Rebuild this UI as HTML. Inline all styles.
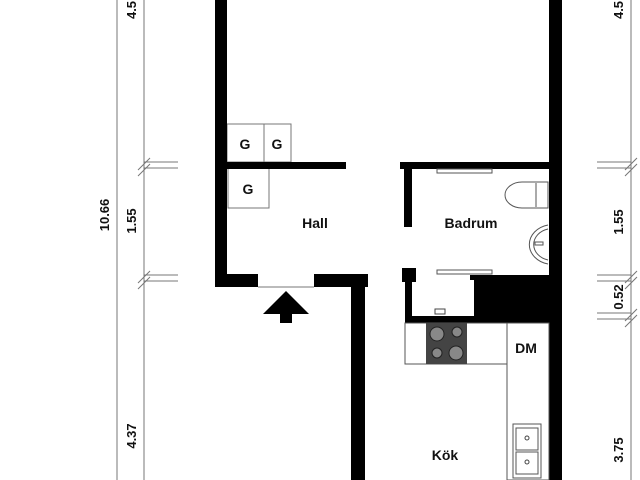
<!DOCTYPE html>
<html><head><style>
html,body{margin:0;padding:0;background:#fff;}
svg{display:block;}
text{font-family:"Liberation Sans","DejaVu Sans",sans-serif;font-weight:bold;fill:#111;}
</style></head><body>
<svg width="640" height="480" viewBox="0 0 640 480" xmlns="http://www.w3.org/2000/svg">
<!-- left dims -->
<g stroke="#777" stroke-width="1">
<line x1="117" y1="0" x2="117" y2="480"/>
<line x1="144" y1="0" x2="144" y2="480"/>
<line x1="144" y1="162" x2="178" y2="162"/><line x1="144" y1="168" x2="178" y2="168"/>
<line x1="144" y1="275" x2="178" y2="275"/><line x1="144" y1="281" x2="178" y2="281"/>
<line x1="138" y1="170" x2="150" y2="158"/><line x1="138" y1="176" x2="150" y2="164"/>
<line x1="138" y1="283" x2="150" y2="271"/><line x1="138" y1="289" x2="150" y2="277"/>
<!-- right dims -->
<line x1="631" y1="0" x2="631" y2="480"/>
<line x1="597" y1="162" x2="631" y2="162"/><line x1="597" y1="168" x2="631" y2="168"/>
<line x1="597" y1="275" x2="631" y2="275"/><line x1="597" y1="281" x2="631" y2="281"/>
<line x1="597" y1="313" x2="631" y2="313"/><line x1="597" y1="319" x2="631" y2="319"/>
<line x1="625" y1="170" x2="637" y2="158"/><line x1="625" y1="176" x2="637" y2="164"/>
<line x1="625" y1="283" x2="637" y2="271"/><line x1="625" y1="289" x2="637" y2="277"/>
<line x1="625" y1="321" x2="637" y2="309"/><line x1="625" y1="327" x2="637" y2="315"/>
</g>
<g font-size="13">
<text transform="translate(109,215) rotate(-90)" text-anchor="middle">10.66</text>
<text transform="translate(136,221) rotate(-90)" text-anchor="middle">1.55</text>
<text transform="translate(136,436) rotate(-90)" text-anchor="middle">4.37</text>
<text transform="translate(136,10) rotate(-90)" text-anchor="middle">4.5</text>
<text transform="translate(623,10) rotate(-90)" text-anchor="middle">4.5</text>
<text transform="translate(623,222) rotate(-90)" text-anchor="middle">1.55</text>
<text transform="translate(623,297) rotate(-90)" text-anchor="middle">0.52</text>
<text transform="translate(623,450) rotate(-90)" text-anchor="middle">3.75</text>
</g>
<!-- storage G -->
<g stroke="#777" fill="none" stroke-width="1">
<rect x="227" y="124" width="37" height="38"/><rect x="264" y="124" width="27" height="38"/>
<rect x="228" y="168" width="41" height="40"/>
<line x1="258" y1="287" x2="314" y2="287"/>
</g>
<g font-size="14" text-anchor="middle">
<text x="245" y="149">G</text><text x="277" y="149">G</text><text x="248" y="194">G</text>
<text x="315" y="228">Hall</text><text x="471" y="228">Badrum</text>
<text x="445" y="460">Kök</text><text x="526" y="353">DM</text>
</g>
<!-- walls -->
<g fill="#000">
<rect x="215" y="0" width="12" height="287"/>
<rect x="549" y="0" width="13" height="480"/>
<rect x="215" y="274" width="43" height="13"/>
<rect x="314" y="274" width="54" height="13"/>
<rect x="351" y="274" width="14" height="206"/>
<rect x="227" y="162" width="119" height="7"/>
<rect x="400" y="162" width="150" height="7"/>
<rect x="404" y="162" width="8" height="65"/>
<rect x="405" y="268" width="7" height="55"/>
<rect x="402" y="268" width="14" height="14"/>
<rect x="405" y="316" width="145" height="7"/>
<rect x="474" y="275" width="76" height="48"/>
<rect x="470" y="275" width="6" height="5"/>
<polygon points="286,291 309,314 263,314"/>
<rect x="280" y="313" width="12" height="10"/>
</g>
<!-- badrum fixtures -->
<g stroke="#555" fill="#fff" stroke-width="1">
<rect x="437" y="169" width="55" height="4"/>
<rect x="437" y="270" width="55" height="4"/>
<path d="M548 182 H522 A17 13 0 0 0 522 208 H548 Z"/>
<line x1="536" y1="183" x2="536" y2="207"/>
<path d="M548 225 A24 20 0 0 0 548 264"/>
<path d="M548 229 A19 16 0 0 0 548 260"/>
<rect x="535" y="242" width="8" height="3"/>
<!-- kitchen -->
<rect x="405" y="323" width="102" height="41" fill="none"/>
<rect x="507" y="323" width="42" height="157" fill="none"/>
<rect x="513" y="424" width="28" height="54"/>
<rect x="516" y="428" width="22" height="22"/>
<rect x="516" y="452" width="22" height="22"/>
</g>
<rect x="426" y="323" width="41" height="41" fill="#444"/>
<g fill="#888" stroke="#222">
<circle cx="437" cy="334" r="7"/><circle cx="457" cy="332" r="5"/>
<circle cx="437" cy="353" r="5"/><circle cx="456" cy="353" r="7"/>
</g>
<g fill="none" stroke="#444"><circle cx="527" cy="438" r="2"/><circle cx="527" cy="462" r="2"/></g>
<rect x="435" y="309" width="10" height="5" fill="#fff" stroke="#444"/>
</svg>
</body></html>
